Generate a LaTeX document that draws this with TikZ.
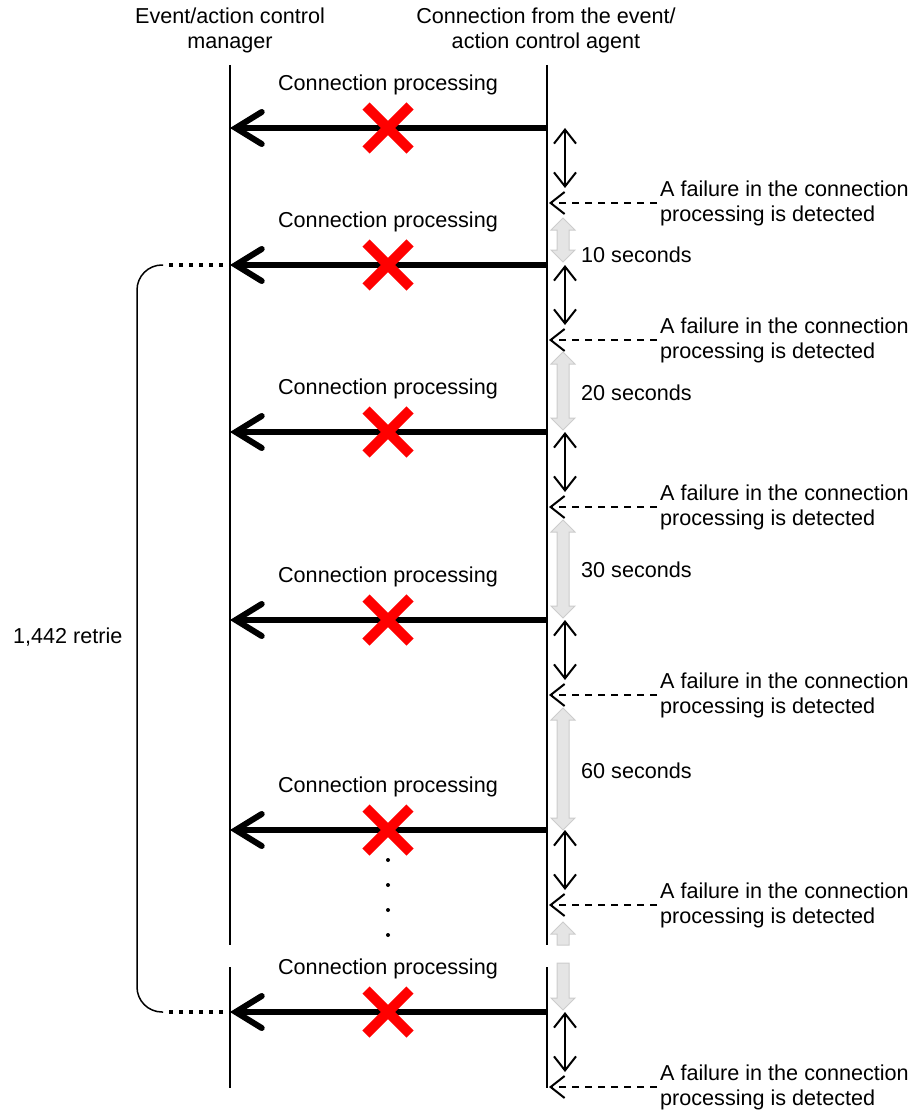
\documentclass[tikz,border=0pt]{standalone}
\usepackage{fontspec}
\setmainfont{Liberation Sans}
\usetikzlibrary{arrows.meta}

% grey time span between two retries (top tip, bottom tip)
\newcommand{\waitarrow}[2]{%
  \filldraw[waitspan] (563,#1) -- (575,#1+12) -- (569,#1+12) -- (569,#2-12)
    -- (575,#2-12) -- (563,#2) -- (551,#2-12) -- (557,#2-12)
    -- (557,#1+12) -- (551,#1+12) -- cycle;}

\begin{document}
\begin{tikzpicture}[x=1pt, y=-1pt,
    every node/.style={inner sep=3pt, font=\fontsize{21.6}{25}\selectfont},
    lifeline/.style={line width=1.5pt},
    callarrow/.style={line width=6pt, -{Straight Barb[length=26pt,width=32pt,line cap=round]}},
    failx/.style={line width=10pt, red},
    gap/.style={line width=2pt, {Straight Barb[length=14pt,width=22pt]}-{Straight Barb[length=14pt,width=22pt]}},
    detect/.style={line width=2pt, dash pattern=on 7pt off 6pt, -{Straight Barb[length=14pt,width=22pt]}},
    waitspan/.style={line width=1pt, fill=black!10, draw=black!20},
    dotline/.style={line width=4.5pt, dash pattern=on 4.5pt off 5.5pt}]
  \useasboundingbox (0,0) rectangle (914,1110);

  \node[align=center] (manager) at (230,30) {Event/action control\\manager};
  \node[align=center] (agent) at (546,30) {Connection from the event/\\action control agent};

  \coordinate (mtop) at (230,65);
  \coordinate (mbrk) at (230,945);
  \coordinate (mres) at (230,967);
  \coordinate (mbot) at (230,1088);
  \coordinate (atop) at (547,65);
  \coordinate (abrk) at (547,945);
  \coordinate (ares) at (547,967);
  \coordinate (abot) at (547,1088);
  \draw[lifeline] (mtop) -- (mbrk) (mres) -- (mbot);
  \draw[lifeline] (atop) -- (abrk) (ares) -- (abot);

  \foreach \i/\y in {1/128,2/265,3/432,4/620,5/830,6/1012}{
    \coordinate (m\i) at (230,\y);
    \coordinate (a\i) at (547,\y);
    \coordinate (d\i) at (549,\y+75);
    \node (proc\i) at (388,\y-43) {Connection processing};
    \draw[callarrow] (a\i) -- (m\i);
    \draw[failx] (366,\y-22) -- (410,\y+22) (366,\y+22) -- (410,\y-22);
    \draw[gap] (565,\y) -- (565,\y+60);
    \node[anchor=west, align=left] (fail\i) at (657,\y+75)
      {A failure in the connection\\processing is detected};
    \draw[detect] (fail\i.west) -- (d\i);
  }

  \waitarrow{218}{262}
  \node[anchor=west] (wait1) at (578,255) {10 seconds};
  \waitarrow{352}{430}
  \node[anchor=west] (wait2) at (578,393) {20 seconds};
  \waitarrow{520}{618}
  \node[anchor=west] (wait3) at (578,570) {30 seconds};
  \waitarrow{708}{830}
  \node[anchor=west] (wait4) at (578,771) {60 seconds};
  \filldraw[waitspan] (563,922) -- (575,934) -- (569,934) -- (569,945)
    -- (557,945) -- (557,934) -- (551,934) -- cycle;
  \filldraw[waitspan] (557,963) -- (569,963) -- (569,998) -- (575,998)
    -- (563,1010) -- (551,998) -- (557,998) -- cycle;

  \foreach \d in {860,885,910,935}
    \fill (388,\d) circle (2);

  % retry bracket
  \coordinate (br1) at (163,265);
  \coordinate (br2) at (163,1012);
  \draw[dotline] ([xshift=-7pt]m2) -- (br1);
  \draw[dotline] ([xshift=-7pt]m6) -- (br2);
  \draw[line width=1.5pt, rounded corners=25pt] (br1) -- (137,265) -- (137,1012) -- (br2);
  \node[anchor=west] (retries) at (10,637) {1,442 retrie};
\end{tikzpicture}
\end{document}
